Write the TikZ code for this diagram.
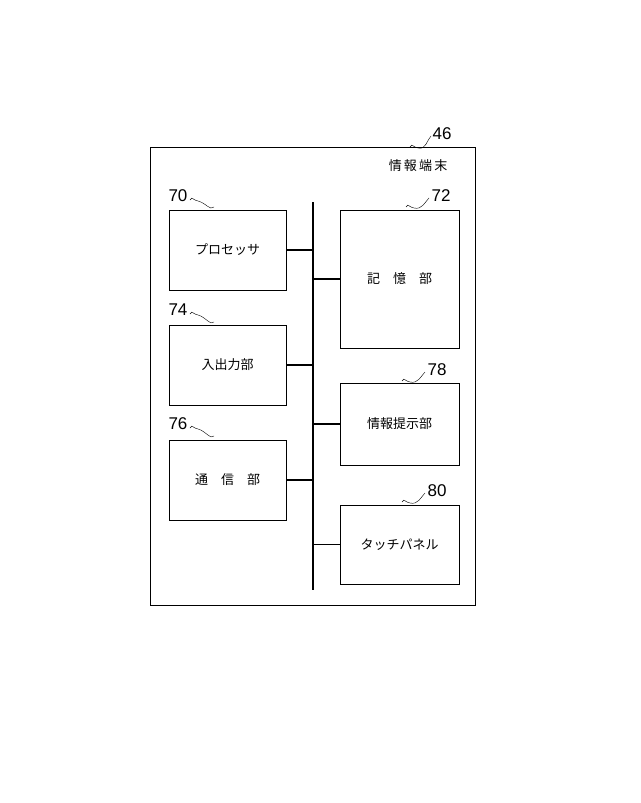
\documentclass[tikz,border=0pt]{standalone}
\usepackage{fontspec}
\newfontfamily\cjk{Noto Sans CJK JP}
\setsansfont{Liberation Sans}
\usetikzlibrary{positioning}
\tikzset{
  unit/.style={draw, thick, minimum width=117pt, font=\cjk\fontsize{13}{15}\selectfont},
  refnum/.style={font=\sffamily\fontsize{17}{19}\selectfont},
  bus/.style={line width=1.6pt},
  tap/.style={line width=1.4pt}
}
\newcommand{\squig}[2]{\draw (#1) .. controls ++(4pt,4pt) and ++(-8pt,2pt) .. ++(8pt,-1pt) .. controls ++(8pt,-2pt) and ++(-4pt,-4pt) .. (#2);}
\begin{document}
\begin{tikzpicture}[x=1pt,y=-1pt]
  \useasboundingbox (0,0) rectangle (640,803);
  % outer frame
  \draw[thick] (150,147) rectangle (475,605);
  \node[font=\cjk\fontsize{13}{15}\selectfont] (term) at (418,166) {情\,報\,端\,末};
  \node[refnum] (n46) at (442,134) {46};
  \squig{410,147}{431,136}
  % bus
  \coordinate (btop) at (313,202);
  \coordinate (bbot) at (313,590);
  \draw[bus] (btop) -- (bbot);
  % left units
  \node[unit, minimum height=80pt] (proc) at (227.5,250) {プロセッサ};
  \node[unit, minimum height=80pt] (io) at (227.5,365) {入出力部};
  \node[unit, minimum height=80pt] (comm) at (227.5,480) {通\quad 信\quad 部};
  % right units
  \node[unit, minimum width=119pt, minimum height=138pt] (mem) at (399.5,279) {記\quad 憶\quad 部};
  \node[unit, minimum width=119pt, minimum height=82pt] (info) at (399.5,424) {情報提示部};
  \node[unit, minimum width=119pt, minimum height=79pt] (touch) at (399.5,544.5) {タッチパネル};
  % taps
  \foreach \u in {proc,io,comm} \draw[tap] (\u.east) -- (\u.east -| btop);
  \foreach \u in {mem,info,touch} \draw[tap] (\u.west -| btop) -- (\u.west);
  % reference numbers
  \node[refnum] (n70) at (178,196) {70};
  \squig{190,200}{214,207}
  \node[refnum] (n74) at (178,310) {74};
  \squig{190,314}{214,322}
  \node[refnum] (n76) at (178,424) {76};
  \squig{190,428}{214,436}
  \node[refnum] (n72) at (441,196) {72};
  \squig{406,207}{429,198}
  \node[refnum] (n78) at (437,370) {78};
  \squig{402,381}{425,372}
  \node[refnum] (n80) at (437,491) {80};
  \squig{402,502}{425,493}
\end{tikzpicture}
\end{document}
